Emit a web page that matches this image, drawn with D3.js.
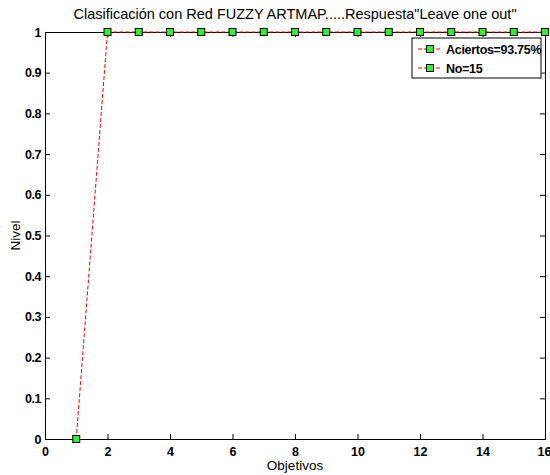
<!DOCTYPE html>
<html>
<head>
<meta charset="utf-8">
<script src="https://cdn.jsdelivr.net/npm/d3@7"></script>
<style>
  body { margin: 0; background: #fff; }
  svg { display: block; font-family: "Liberation Sans", Arial, sans-serif; }
</style>
</head>
<body>
<div id="chart"></div>
<script>
// datos: objetivos 1..16, nivel de respuesta
const objetivos = [1, 2, 3, 4, 5, 6, 7, 8, 9, 10, 11, 12, 13, 14, 15, 16];
const nivel = [0, 1, 1, 1, 1, 1, 1, 1, 1, 1, 1, 1, 1, 1, 1, 1];
const xTicks = [0, 2, 4, 6, 8, 10, 12, 14, 16];
const yTicks = [0, 0.1, 0.2, 0.3, 0.4, 0.5, 0.6, 0.7, 0.8, 0.9, 1];
const legendLabels = ["Aciertos=93.75%", "No=15"];

const W = 550, H = 475;
const pLeft = 45, pRight = 545, pTop = 32, pBottom = 439;

const svg = d3.select("#chart").append("svg")
    .attr("width", W)
    .attr("height", H);

const x = d3.scaleLinear().domain([0, 16]).range([pLeft, pRight]);
const y = d3.scaleLinear().domain([0, 1]).range([pBottom, pTop]);

// ejes con ticks hacia dentro
const xAxis = svg.append("g")
    .attr("transform", `translate(0,${pBottom})`)
    .call(d3.axisBottom(x).tickValues(xTicks).tickSize(-5).tickPadding(8).tickFormat(d3.format("d")));
const xAxisTop = svg.append("g")
    .attr("transform", `translate(0,${pTop})`)
    .call(d3.axisTop(x).tickValues(xTicks).tickSize(-5).tickFormat(""));
const yAxis = svg.append("g")
    .attr("transform", `translate(${pLeft},0)`)
    .call(d3.axisLeft(y).tickValues(yTicks).tickSize(-5).tickPadding(3).tickFormat(d => d === 0 || d === 1 ? d : d.toFixed(1)));
const yAxisRight = svg.append("g")
    .attr("transform", `translate(${pRight},0)`)
    .call(d3.axisRight(y).tickValues(yTicks).tickSize(-5).tickFormat(""));

[xAxis, xAxisTop, yAxis, yAxisRight].forEach(g => {
    g.select(".domain").attr("stroke", "#000").attr("stroke-width", 1);
    g.selectAll(".tick line").attr("stroke", "#000");
    g.selectAll(".tick text")
        .attr("fill", "#000")
        .style("font-size", "12.5px")
        .style("font-weight", "bold");
});
yAxis.selectAll(".tick text").attr("dx", "-1").style("letter-spacing", "-0.5px");
// el "16" queda pegado al borde
xAxis.selectAll(".tick text").filter(d => d === 16).attr("dx", "-1");

// línea discontinua roja
const line = d3.line()
    .x((d, i) => x(objetivos[i]))
    .y(d => y(d));

svg.append("path")
    .datum(nivel)
    .attr("d", line)
    .attr("fill", "none")
    .attr("stroke", "#ff0000")
    .attr("stroke-width", 1)
    .attr("stroke-dasharray", "4,2");

// marcadores cuadrados verdes
const ms = 7;
svg.selectAll(".mk")
    .data(nivel)
    .enter()
    .append("rect")
    .attr("class", "mk")
    .attr("x", (d, i) => x(objetivos[i]) - ms / 2)
    .attr("y", d => y(d) - ms / 2)
    .attr("width", ms)
    .attr("height", ms)
    .attr("fill", "#33ee33")
    .attr("stroke", "#000")
    .attr("stroke-width", 1);

// título y etiquetas
svg.append("text")
    .attr("x", (pLeft + pRight) / 2)
    .attr("y", 19)
    .attr("text-anchor", "middle")
    .style("font-size", "14.5px")
    .text("Clasificación con Red FUZZY ARTMAP.....Respuesta\"Leave one out\"");

svg.append("text")
    .attr("x", (pLeft + pRight) / 2)
    .attr("y", 470)
    .attr("text-anchor", "middle")
    .style("font-size", "13.5px")
    .text("Objetivos");

svg.append("text")
    .attr("transform", `translate(20,${(pTop + pBottom) / 2}) rotate(-90)`)
    .attr("text-anchor", "middle")
    .style("font-size", "13.5px")
    .text("Nivel");

// leyenda
const lg = svg.append("g").attr("transform", "translate(412,38)");
lg.append("rect")
    .attr("width", 129)
    .attr("height", 40)
    .attr("fill", "#fff")
    .attr("stroke", "#000")
    .attr("stroke-width", 1);
svg.append("line")
    .attr("x1", 541).attr("x2", pRight)
    .attr("y1", 73).attr("y2", 73)
    .attr("stroke", "#888");

legendLabels.forEach((lab, i) => {
    const yy = 11 + i * 19;
    lg.append("line")
        .attr("x1", 6).attr("x2", 30)
        .attr("y1", yy).attr("y2", yy)
        .attr("stroke", "#ff0000")
        .attr("stroke-dasharray", "4,2");
    lg.append("rect")
        .attr("x", 18 - ms / 2).attr("y", yy - ms / 2)
        .attr("width", ms).attr("height", ms)
        .attr("fill", "#33ee33")
        .attr("stroke", "#000");
    lg.append("text")
        .attr("x", 34)
        .attr("y", yy + 4.5)
        .style("font-size", "12.5px")
        .style("font-weight", "bold")
        .style("letter-spacing", "-0.3px")
        .text(lab);
});
</script>
</body>
</html>
